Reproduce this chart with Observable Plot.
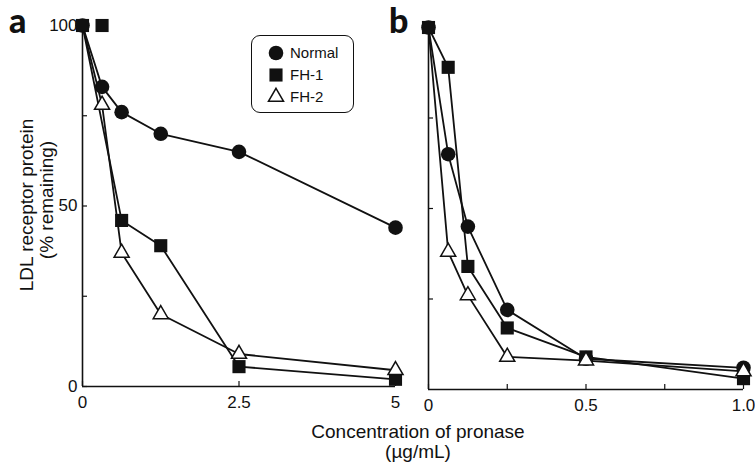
<!DOCTYPE html>
<html><head><meta charset="utf-8">
<script src="https://cdn.jsdelivr.net/npm/d3@7"></script>
<script src="https://cdn.jsdelivr.net/npm/@observablehq/plot@0.6"></script>
<style>
body{margin:0;background:#fff;}
#wrap{position:relative;width:755px;height:466px;overflow:hidden;font-family:"Liberation Sans",Arial,sans-serif;color:#111;background:#fff;}
#wrap svg{position:absolute;overflow:visible;}
.t{position:absolute;white-space:nowrap;line-height:1;}
</style></head><body><div id="wrap"></div>
<script>
// ---- data ----
const seriesNames = ["Normal", "FH-1", "FH-2"];
// panel a
const concA = [0, 0.3125, 0.625, 1.25, 2.5, 5];
const normalA = [100, 83, 76, 70, 65, 44];
const fh1A = [100, 100, 46, 39, 5.5, 2];
const fh2A = [100, 78, 37, 20, 9, 4.5];
const fh1ALineSkip = [0.3125]; // point drawn but not joined by the line
const xTicksA = [0, 2.5, 5];
const xLabelsA = [0, 2.5, 5];
// panel b
const concB = [0, 0.0625, 0.125, 0.25, 0.5, 1.0];
const normalB = [100, 65, 45, 22, 8.5, 6];
const fh1B = [100, 89, 34, 17, 9, 3];
const fh2B = [100, 38, 26, 9, 8, 5];
const xTicksB = [0, 0.25, 0.5, 0.75, 1.0];
const xLabelsB = [0, 0.5, 1.0];
// y axis
const yTicks = [0, 25, 50, 75, 100];
const yLabels = [0, 50, 100];

const H = 466;
const ink = "#111";
const wrap = document.getElementById("wrap");

function rowsOf(conc, vals, name) {
  return conc.map((c, i) => ({conc: c, pct: vals[i], series: name}));
}

function panel(o) {
  const rows = [
    ...rowsOf(o.conc, o.normal, "Normal"),
    ...rowsOf(o.conc, o.fh1, "FH-1"),
    ...rowsOf(o.conc, o.fh2, "FH-2")
  ];
  const lineRows = rows.filter(d => !(d.series === "FH-1" && o.skip.includes(d.conc)));
  const innerW = o.width - o.marginLeft - o.marginRight;
  const innerH = H - o.marginTop - o.marginBottom;
  const marks = [
    Plot.ruleY([0], {x1: o.xDomain[0], x2: o.xDomain[1], stroke: ink, strokeWidth: 1.6}),
    Plot.ruleX([0], {y1: 0, y2: 100, stroke: ink, strokeWidth: 1.6}),
    Plot.tickX(o.xTicks, {x: d => d, insetTop: innerH - 5, stroke: ink, strokeWidth: 1.2}),
    Plot.tickY(o.yTicks, {y: d => d, insetRight: innerW - 5, stroke: ink, strokeWidth: 1.2}),
    Plot.axisX({ticks: o.xLabels, tickSize: 0, tickPadding: 9, tickFormat: o.fmt, fontSize: 17, label: null}),
    o.yLabels.length ? Plot.axisY({ticks: o.yLabels, tickSize: 0, tickPadding: 5, fontSize: 17, label: null}) : null,
    Plot.line(lineRows, {x: "conc", y: "pct", z: "series", stroke: ink, strokeWidth: 1.8}),
    Plot.dot(rows.filter(d => d.series === "Normal"), {x: "conc", y: "pct", r: 7.3, fill: ink, stroke: "none", symbol: "circle"}),
    Plot.dot(rows.filter(d => d.series === "FH-1"), {x: "conc", y: "pct", r: 7.4, fill: ink, stroke: "none", symbol: "square"}),
    Plot.dot(rows.filter(d => d.series === "FH-2" && d.conc > 0), {x: "conc", y: "pct", r: 5.6, fill: "#fff", stroke: ink, strokeWidth: 1.5, symbol: "triangle"})
  ].filter(Boolean);
  const svg = Plot.plot({
    width: o.width, height: H,
    marginLeft: o.marginLeft, marginRight: o.marginRight,
    marginTop: o.marginTop, marginBottom: o.marginBottom,
    x: {domain: o.xDomain, axis: null},
    y: {domain: [0, 100], axis: null},
    style: {fontFamily: '"Liberation Sans", Arial, sans-serif', fontSize: "17px", color: ink, background: "transparent", overflow: "visible"},
    marks
  });
  svg.style.left = o.left + "px";
  svg.style.top = "0px";
  wrap.appendChild(svg);
}

panel({conc: concA, normal: normalA, fh1: fh1A, fh2: fh2A, skip: fh1ALineSkip,
  left: 0, width: 410, marginLeft: 82, marginRight: 15, marginTop: 25, marginBottom: 80,
  xDomain: [0, 5], xTicks: xTicksA, xLabels: xLabelsA, fmt: d => String(d),
  yTicks: yTicks, yLabels: yLabels});
panel({conc: concB, normal: normalB, fh1: fh1B, fh2: fh2B, skip: [],
  left: 380, width: 375, marginLeft: 48, marginRight: 12, marginTop: 27, marginBottom: 77,
  xDomain: [0, 1], xTicks: xTicksB, xLabels: xLabelsB, fmt: d => d === 0 ? "0" : d.toFixed(1),
  yTicks: yTicks.filter(d => d > 0 && d < 100), yLabels: []});

// ---- text ----
function text(str, css) {
  const d = document.createElement("div");
  d.className = "t";
  d.textContent = str;
  Object.assign(d.style, css);
  wrap.appendChild(d);
  return d;
}
text("a", {left: "9px", top: "3px", fontFamily: "Lato, 'Open Sans', sans-serif", fontWeight: "900", fontSize: "34px"});
text("b", {left: "389px", top: "3px", fontFamily: "Lato, 'Open Sans', sans-serif", fontWeight: "900", fontSize: "34px"});
text("LDL receptor protein", {left: "26px", top: "205px", fontSize: "19px", transform: "translate(-50%,-50%) rotate(-90deg)"});
text("(% remaining)", {left: "46px", top: "200px", fontSize: "19px", transform: "translate(-50%,-50%) rotate(-90deg)"});
text("Concentration of pronase", {left: "418px", top: "431px", fontSize: "19px", transform: "translate(-50%,-50%)"});
text("(\u00b5g/mL)", {left: "418px", top: "451px", fontSize: "19px", transform: "translate(-50%,-50%)"});

// ---- legend ----
const leg = document.createElement("div");
Object.assign(leg.style, {position: "absolute", left: "251px", top: "35px", width: "101px", height: "76px",
  border: "1.6px solid " + ink, borderRadius: "9px", background: "#fff"});
wrap.appendChild(leg);
const lsvg = d3.create("svg").attr("width", 101).attr("height", 76).style("left", "0px").style("top", "0px");
const legSymbols = [
  {name: seriesNames[0], sym: d3.symbolCircle, r: 7.3, fill: ink, stroke: "none"},
  {name: seriesNames[1], sym: d3.symbolSquare, r: 7.4, fill: ink, stroke: "none"},
  {name: seriesNames[2], sym: d3.symbolTriangle, r: 5.6, fill: "#fff", stroke: ink}
];
legSymbols.forEach((s, i) => {
  const cy = 17 + i * 22;
  lsvg.append("path").attr("d", d3.symbol(s.sym, Math.PI * s.r * s.r)())
    .attr("transform", `translate(24,${cy})`).attr("fill", s.fill).attr("stroke", s.stroke).attr("stroke-width", 1.5);
  lsvg.append("text").attr("x", 38).attr("y", cy).attr("dy", "0.36em")
    .attr("font-size", 15).attr("font-family", '"Liberation Sans", Arial, sans-serif').attr("fill", ink).text(s.name);
});
leg.appendChild(lsvg.node());
</script></body></html>
